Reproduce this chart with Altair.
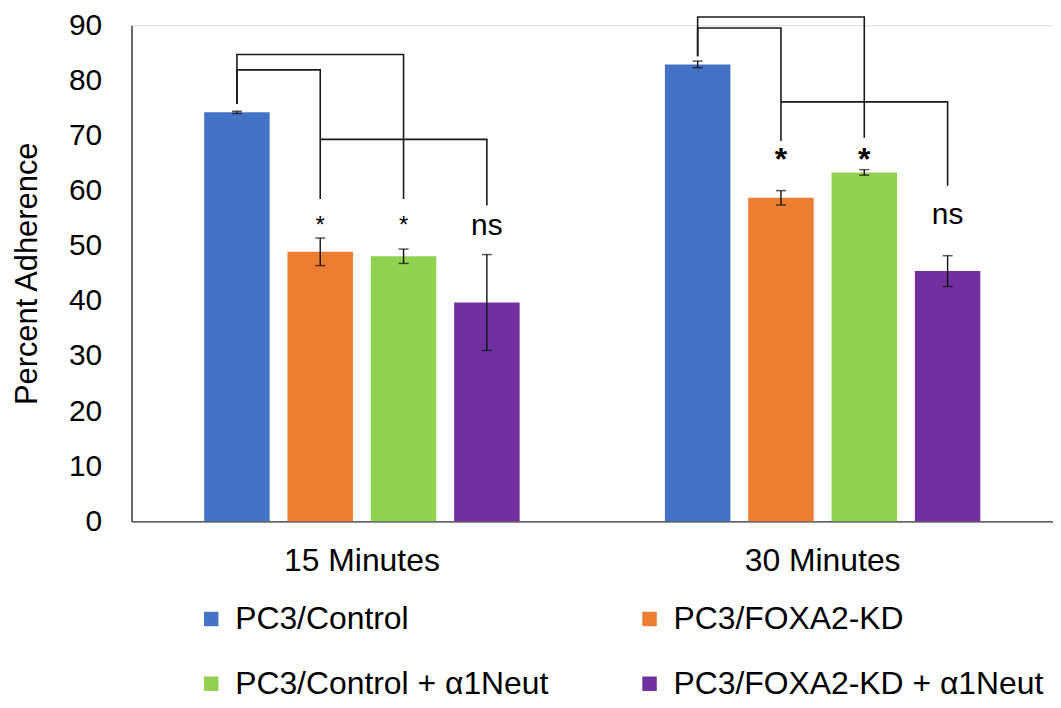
import altair as alt
import pandas as pd

groups = ["15 Minutes", "30 Minutes"]
series = ["PC3/Control", "PC3/FOXA2-KD", "PC3/Control + α1Neut", "PC3/FOXA2-KD + α1Neut"]
colors = ["#4472C4", "#ED7D31", "#92D050", "#7030A0"]
values_15 = [74.2, 48.9, 48.1, 39.7]
values_30 = [82.9, 58.7, 63.3, 45.4]
err_15 = [0.2, 2.5, 1.3, 8.7]
err_30 = [0.6, 1.3, 0.5, 2.8]

# significance brackets (paths through series positions)
br_id = [1, 1, 1, 1, 2, 2, 2, 2, 3, 3, 3, 4, 4, 4, 4, 5, 5, 5, 5, 6, 6, 6]
br_group = ["15 Minutes"] * 11 + ["30 Minutes"] * 11
br_series_idx = [0, 0, 2, 2, 0, 0, 1, 1, 1, 3, 3, 0, 0, 2, 2, 0, 0, 1, 1, 1, 3, 3]
br_y = [75.7, 84.7, 84.7, 58.5, 75.7, 81.9, 81.9, 58.5, 69.3, 69.3, 57.3,
        84.4, 91.5, 91.5, 69.6, 84.4, 89.5, 89.5, 69.0, 76.1, 76.1, 60.9]

# significance labels
ann_group = ["15 Minutes", "15 Minutes", "15 Minutes", "30 Minutes", "30 Minutes", "30 Minutes"]
ann_series_idx = [1, 2, 3, 1, 2, 3]
ann_text = ["*", "*", "ns", "*", "*", "ns"]
ann_y = [52.4, 52.4, 51.9, 63.7, 63.7, 54.0]

rows = []
for g, vals, errs in [(groups[0], values_15, err_15), (groups[1], values_30, err_30)]:
    for s, v, e in zip(series, vals, errs):
        rows.append({"group": g, "series": s, "value": v, "lo": v - e, "hi": v + e})
df = pd.DataFrame(rows)

br_df = pd.DataFrame({
    "id": br_id, "group": br_group,
    "series": [series[i] for i in br_series_idx],
    "y": br_y, "order": list(range(len(br_id))),
})
ann_df = pd.DataFrame({
    "group": ann_group,
    "series": [series[i] for i in ann_series_idx],
    "text": ann_text, "y": ann_y,
})

FONT = "Liberation Sans"

x_enc = alt.X("group:N", sort=groups,
              scale=alt.Scale(paddingInner=0, paddingOuter=0),
              axis=alt.Axis(title=None, ticks=False, labelAngle=0, labelFontSize=32,
                            labelFont=FONT, labelColor="#000000", labelPadding=24,
                            domainColor="#333333", domainWidth=1.4))
xo_enc = alt.XOffset("series:N", sort=series,
                     scale=alt.Scale(paddingInner=0.214, paddingOuter=0.872))
y_scale = alt.Scale(domain=[0, 90], nice=False)

bars = alt.Chart(df).mark_bar().encode(
    x=x_enc, xOffset=xo_enc,
    y=alt.Y("value:Q", scale=y_scale,
            axis=alt.Axis(values=list(range(0, 91, 10)), grid=False, ticks=False,
                          labelFontSize=30, labelFont=FONT, labelColor="#000000",
                          labelPadding=30, domainColor="#333333", domainWidth=1.4,
                          title="Percent Adherence", titleFontSize=31, titleFont=FONT,
                          titleFontWeight="normal", titleColor="#000000", titlePadding=25)),
    color=alt.Color("series:N", sort=series,
                    scale=alt.Scale(domain=series, range=colors),
                    legend=alt.Legend(title=None, orient="none", legendX=64, legendY=580,
                                      columns=2, direction="horizontal",
                                      symbolType="square", symbolSize=210,
                                      symbolStrokeWidth=0, labelFontSize=32,
                                      labelFont=FONT, labelColor="#000000",
                                      labelOffset=8, labelLimit=0, columnPadding=85,
                                      rowPadding=33, padding=0)),
)

err_rule = alt.Chart(df).mark_rule(color="#111111", strokeWidth=1.4).encode(
    x=x_enc, xOffset=xo_enc, y=alt.Y("lo:Q", scale=y_scale), y2="hi:Q")
cap_lo = alt.Chart(df).mark_tick(orient="horizontal", size=10, thickness=1.5, color="#111111").encode(
    x=x_enc, xOffset=xo_enc, y=alt.Y("lo:Q", scale=y_scale))
cap_hi = alt.Chart(df).mark_tick(orient="horizontal", size=10, thickness=1.5, color="#111111").encode(
    x=x_enc, xOffset=xo_enc, y=alt.Y("hi:Q", scale=y_scale))

brackets = alt.Chart(br_df).mark_line(color="#1a1a1a", strokeWidth=1.6).encode(
    x=x_enc, xOffset=xo_enc, y=alt.Y("y:Q", scale=y_scale),
    detail="id:N", order="order:Q")

stars15 = alt.Chart(ann_df).transform_filter(
    "datum.text == '*' && datum.group == '15 Minutes'"
).mark_text(font=FONT, fontSize=24, baseline="alphabetic", color="#000000").encode(
    x=x_enc, xOffset=xo_enc, y=alt.Y("y:Q", scale=y_scale), text="text:N")
stars30 = alt.Chart(ann_df).transform_filter(
    "datum.text == '*' && datum.group == '30 Minutes'"
).mark_text(font=FONT, fontSize=32, fontWeight="bold", baseline="alphabetic", color="#000000").encode(
    x=x_enc, xOffset=xo_enc, y=alt.Y("y:Q", scale=y_scale), text="text:N")
ns = alt.Chart(ann_df).transform_filter("datum.text == 'ns'").mark_text(
    font=FONT, fontSize=30, baseline="alphabetic", color="#000000").encode(
    x=x_enc, xOffset=xo_enc, y=alt.Y("y:Q", scale=y_scale), text="text:N")

chart = alt.layer(bars, err_rule, cap_lo, cap_hi, brackets, stars15, stars30, ns).properties(
    width=925, height=498,
    autosize=alt.AutoSizeParams(type="none"),
    padding={"left": 124, "top": 16, "right": 0, "bottom": 178},
).configure_view(stroke=None).configure(background="white")

chart.save("out.html", embed_options={"renderer": "svg", "actions": False})
